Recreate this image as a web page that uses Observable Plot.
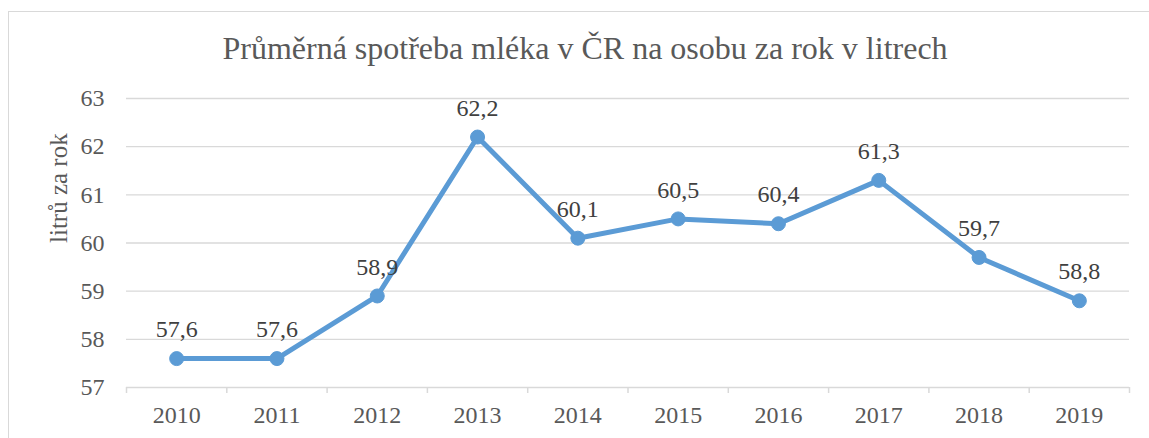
<!DOCTYPE html>
<html>
<head>
<meta charset="utf-8">
<script src="https://cdn.jsdelivr.net/npm/d3@7"></script>
<script src="https://cdn.jsdelivr.net/npm/@observablehq/plot@0.6"></script>
<style>
  html, body { margin: 0; padding: 0; background: #fff; }
  #wrap { position: relative; width: 1149px; height: 438px; overflow: hidden; }
  #border { position: absolute; left: 8px; top: 11px; width: 1150px; height: 440px; border: 1px solid #d9d9d9; box-sizing: border-box; pointer-events: none; }
</style>
</head>
<body>
<div id="wrap"><div id="border"></div></div>
<script>
const title = "Průměrná spotřeba mléka v ČR na osobu za rok v litrech";
const yLabel = "litrů za rok";
const years = ["2010","2011","2012","2013","2014","2015","2016","2017","2018","2019"];
const values = [57.6, 57.6, 58.9, 62.2, 60.1, 60.5, 60.4, 61.3, 59.7, 58.8];
const yTicks = [57, 58, 59, 60, 61, 62, 63];

const data = years.map((y, i) => ({year: y, pos: i + 0.5, value: values[i]}));
const font = "Liberation Serif, Times New Roman, serif";
const grey = "#595959";
const blue = "#5B9BD5";
const fmt = v => v.toFixed(1).replace(".", ",");

const chart = Plot.plot({
  width: 1149,
  height: 438,
  marginLeft: 126,
  marginRight: 20,
  marginTop: 98,
  marginBottom: 51,
  style: {fontFamily: font, fontSize: "24px", color: grey, background: "transparent"},
  x: {type: "linear", domain: [0, years.length]},
  y: {domain: [57, 63]},
  marks: [
    Plot.gridY(yTicks.slice(1), {stroke: "#d9d9d9", strokeOpacity: 1, strokeWidth: 1.3}),
    Plot.ruleY([57], {stroke: "#d9d9d9", strokeWidth: 1.5}),
    Plot.axisY({ticks: yTicks, tickSize: 0, tickPadding: 22, fontSize: 24, fontFamily: font, fill: grey, label: null, tickFormat: d => String(d)}),
    Plot.axisX({ticks: d3.range(years.length + 1), tickSize: 6, tickFormat: () => "", stroke: "#d9d9d9", strokeWidth: 1.5, strokeOpacity: 1, label: null}),
    Plot.axisX({ticks: data.map(d => d.pos), tickSize: 0, tickPadding: 18, fontSize: 24, fontFamily: font, fill: grey, tickFormat: p => years[Math.round(p - 0.5)], label: null}),
    Plot.line(data, {x: "pos", y: "value", stroke: blue, strokeWidth: 5, strokeLinejoin: "round"}),
    Plot.dot(data, {x: "pos", y: "value", r: 7, fill: blue, stroke: blue, strokeWidth: 1}),
    Plot.text(data, {x: "pos", y: "value", text: d => fmt(d.value), dy: -29, fontSize: 24, fontFamily: font, fill: "#404040"}),
    Plot.text([title], {frameAnchor: "top", dx: -43, dy: -50, fontSize: 32, fontFamily: font, fill: grey, lineAnchor: "middle"}),
    Plot.text([yLabel], {frameAnchor: "left", dx: -68, rotate: -90, fontSize: 25, fontFamily: font, fill: grey, lineAnchor: "middle"})
  ]
});
document.getElementById("wrap").insertBefore(chart, document.getElementById("border"));
</script>
</body>
</html>
